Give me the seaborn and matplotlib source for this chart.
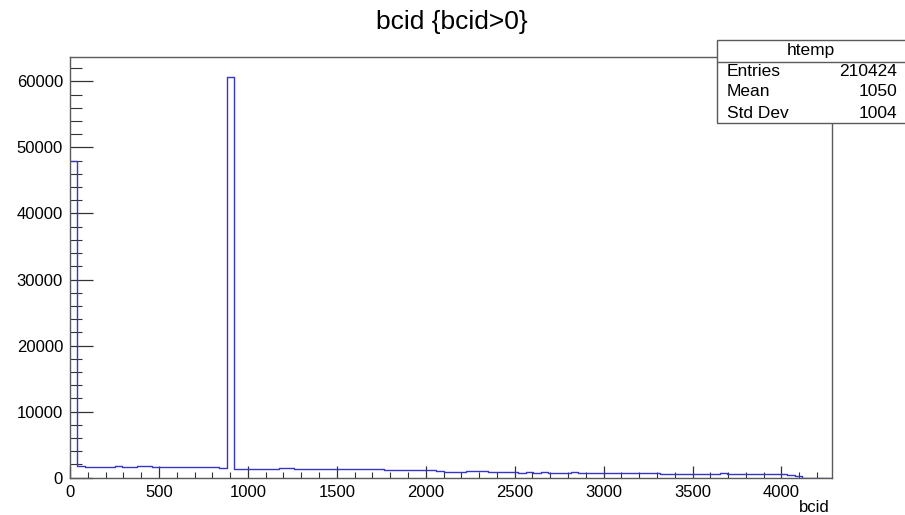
import numpy as np
import pandas as pd
import matplotlib
matplotlib.use("Agg")
import matplotlib.pyplot as plt
from matplotlib.patches import Rectangle
from matplotlib.lines import Line2D
from matplotlib.ticker import MultipleLocator
import seaborn as sns

# Histogram of bcid (bcid > 0): 102 bins of width 42 over [0, 4284]
hist_name = "htemp"
title = "bcid {bcid>0}"
x_label = "bcid"
bin_low = 0
bin_width = 42
n_bins = 102

counts = [
    48000,
    1750, 1600, 1620, 1630, 1650, 1720, 1680, 1620, 1700, 1720,
    1640, 1620, 1620, 1610, 1600, 1600, 1580, 1570, 1560, 1520,
    60700,
    1250, 1300, 1380, 1350, 1370, 1380, 1400, 1400, 1390, 1380, 1380,
    1330, 1340, 1320, 1330, 1310, 1320, 1300, 1250,
    1280, 1220, 1200, 1210, 1180, 1120, 1150, 1100,
    1000, 900, 920, 900, 1000, 1020, 980, 900,
    920, 860, 850, 780, 800, 780, 790, 770,
    780, 770, 790, 780, 770, 760, 760,
    650, 640, 660, 650, 640, 650, 700,
    560, 580, 600,
    580, 570, 560, 570, 580,
    640, 620, 580, 560, 570,
    560, 580, 570, 560, 430, 330,
    0, 0, 0, 0,
]

stat_names = ["Entries", "Mean", "Std Dev"]
stat_values = ["210424", "1050", "1004"]

x_ticks = [0, 500, 1000, 1500, 2000, 2500, 3000, 3500, 4000]
y_ticks = [0, 10000, 20000, 30000, 40000, 50000, 60000]

sns.set_style("white")
plt.rcParams["font.family"] = ["Liberation Sans", "DejaVu Sans"]
plt.rcParams["text.color"] = "black"
plt.rcParams["xtick.color"] = "#333333"
plt.rcParams["ytick.color"] = "#333333"
plt.rcParams["xtick.labelcolor"] = "black"
plt.rcParams["ytick.labelcolor"] = "black"

edges = [float(bin_low + bin_width * i) for i in range(n_bins + 1)]
centers = [0.5 * (a + b) for a, b in zip(edges[:-1], edges[1:])]
df = pd.DataFrame({"bcid": centers, "n": counts})

W, H = 905, 515
fig = plt.figure(figsize=(W / 100, H / 100), dpi=100)
fig.patch.set_facecolor("white")

# frame position in pixels
left, right, top, bottom = 70, 832, 56.7, 477.7
ax = fig.add_axes([left / W, 1 - bottom / H, (right - left) / W, (bottom - top) / H])

line_color = "#3535c8"
sns.histplot(data=df, x="bcid", weights="n", bins=edges, element="step",
             fill=False, color=line_color, linewidth=1.0, ax=ax)

ax.set_xlim(edges[0], edges[-1])
ax.set_ylim(0, 1.05 * max(counts))
ax.set_xticks(x_ticks)
ax.set_yticks(y_ticks)
ax.xaxis.set_minor_locator(MultipleLocator(100))
ax.yaxis.set_minor_locator(MultipleLocator(2000))
ax.set_xticklabels([str(v) for v in x_ticks])
ax.set_yticklabels([str(v) for v in y_ticks])

frame_color = "#5a5a5a"
for s in ax.spines.values():
    s.set_color(frame_color)
    s.set_linewidth(1.0)
    s.set_visible(True)

ax.tick_params(axis="x", which="major", direction="in", length=9.0, width=0.9,
               labelsize=12, pad=5, bottom=True, top=False)
ax.tick_params(axis="x", which="minor", direction="in", length=4.5, width=0.8,
               bottom=True, top=False)
ax.tick_params(axis="y", which="major", direction="in", length=16.5, width=0.9,
               labelsize=12, pad=5, left=True, right=False)
ax.tick_params(axis="y", which="minor", direction="in", length=8.3, width=0.8,
               left=True, right=False)
ax.set_xlabel("")
ax.set_ylabel("")
ax.grid(False)

# axis title at the right end of the x axis
fig.text(830 / W, 1 - 508 / H, x_label, ha="right", va="center", fontsize=12)

# histogram title
fig.text(452 / W, 1 - 22 / H, title, ha="center", va="center", fontsize=19)

# statistics box
bx0, bx1, by0, by1, bsep = 716.7, 910, 40, 122.7, 61.5
fig.add_artist(Rectangle((bx0 / W, 1 - by1 / H), (bx1 - bx0) / W, (by1 - by0) / H,
                         transform=fig.transFigure, facecolor="white",
                         edgecolor=frame_color, linewidth=1.0, zorder=10))
fig.add_artist(Line2D([bx0 / W, bx1 / W], [1 - bsep / H, 1 - bsep / H],
                      transform=fig.transFigure, color=frame_color, linewidth=1.0,
                      zorder=11))
fig.text(811 / W, 1 - 50.5 / H, hist_name, ha="center", va="center", fontsize=12.5,
         zorder=12)
row_y = [71, 92, 113]
for name, val, yy in zip(stat_names, stat_values, row_y):
    fig.text(727 / W, 1 - yy / H, name, ha="left", va="center", fontsize=12.5, zorder=12)
    fig.text(897 / W, 1 - yy / H, val, ha="right", va="center", fontsize=12.5, zorder=12)

fig.savefig("out.png", dpi=100, facecolor="white")
